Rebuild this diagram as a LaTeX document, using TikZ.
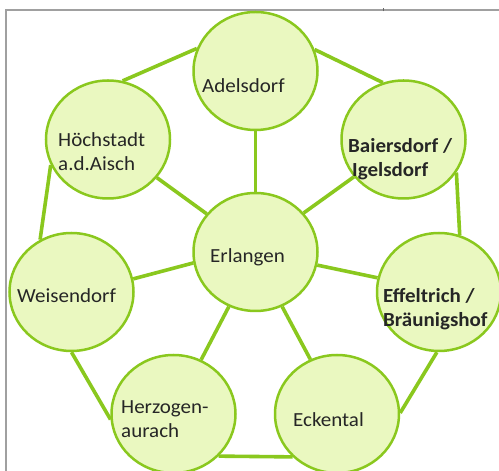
\documentclass[tikz,border=0pt]{standalone}
\usepackage{fontspec}
\setmainfont{Carlito}[FakeStretch=1.05]
\usetikzlibrary{shapes.geometric,backgrounds}
\definecolor{lime}{RGB}{138,200,30}
\definecolor{limefill}{RGB}{234,248,192}
\definecolor{framegray}{RGB}{160,160,160}
\tikzset{
  place/.style={ellipse, draw=lime, fill=limefill, line width=2.5pt,
    minimum width=124pt, minimum height=118pt, inner sep=0pt},
  link/.style={draw=lime, line width=3.6pt},
  lbl/.style={font=\fontsize{20}{24}\selectfont, text=black!85, inner sep=0pt, anchor=base west, align=left},
  blbl/.style={lbl, font=\fontsize{20}{24}\selectfont\bfseries},
}
\begin{document}
\begin{tikzpicture}[x=1pt,y=1pt]
\useasboundingbox (0,0) rectangle (499,471);
\clip (0,0) rectangle (499,471);

\node[place] (A) at (255.5,400) {};
\node[place] (H) at (108,331.5) {};
\node[place] (B) at (403.5,331.5) {};
\node[place] (E) at (255.5,219) {};
\node[place] (W) at (71.5,179) {};
\node[place] (F) at (439,179) {};
\node[place] (Z) at (173.5,57) {};
\node[place] (K) at (337,57) {};

\begin{scope}[on background layer]
\fill[white] (0,0) rectangle (499,471);
\draw[framegray, line width=1.3pt] (6,0) -- (6,461) -- (499,461);
\draw[black!60, line width=1pt] (383,459.5) -- (383,462.5);
\draw[link] (A.159) -- (H.76);
\draw[link] (A.20) -- (B.110);
\draw[link] (A.-90) -- (E.90);
\draw[link] (H.-38) -- (E.142);
\draw[link] (B.217) -- (E.39);
\draw[link] (H.204) -- (W.121);
\draw[link] (B.-32) -- (F.70);
\draw[link] (W.12) -- (E.190);
\draw[link] (E.-12) -- (F.167);
\draw[link] (W.-90) -- (Z.185);
\draw[link] (E.244) -- (Z.63);
\draw[link] (E.-64) -- (K.116);
\draw[link] (F.-92) -- (K.1);
\draw[link] (Z.-43) -- (K.224);
\end{scope}

\node[lbl] (tA) at (202,378) {Adelsdorf};
\node[lbl] (tH) at (58,300) {Höchstadt\\a.d.Aisch};
\node[blbl] (tB) at (348,294) {Baiersdorf /\\\hspace*{4pt}Igelsdorf};
\node[lbl] (tE) at (210,208) {Erlangen};
\node[lbl] (tW) at (17,168) {Weisendorf};
\node[blbl] (tF) at (383,144) {Effeltrich /\\Bräunigshof};
\node[lbl] (tZ) at (121,33) {Herzogen-\\aurach};
\node[lbl] (tK) at (293,44) {Eckental};
\end{tikzpicture}
\end{document}
